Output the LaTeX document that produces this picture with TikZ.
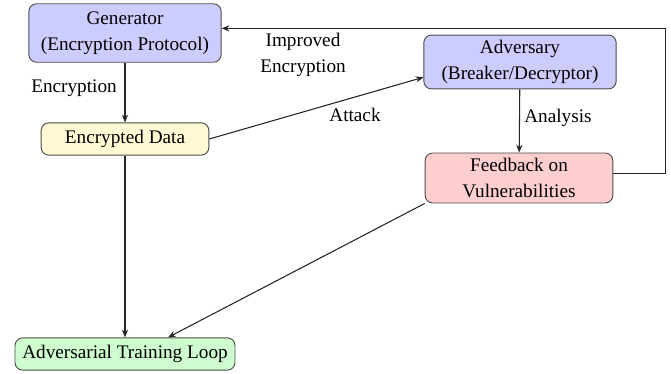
\documentclass[tikz,border=0pt]{standalone}
\usepackage{fontspec}
\setmainfont{Liberation Serif}
\usetikzlibrary{arrows.meta}
\definecolor{genblue}{RGB}{204,204,255}
\definecolor{datayellow}{RGB}{255,250,212}
\definecolor{fbred}{RGB}{255,206,206}
\definecolor{loopgreen}{RGB}{206,252,206}
\begin{document}
\begin{tikzpicture}[
  x=0.65pt, y=-0.65pt,
  block/.style={rounded corners=5pt, draw=black!70, line width=0.6pt, minimum width=#1, align=center, font=\fontsize{12.5}{17}\selectfont},
  lbl/.style={font=\fontsize{12.5}{17}\selectfont, align=center},
  link/.style={->, line width=0.7pt, black!85},
  >={Stealth[length=5pt,width=4pt]}
]
\useasboundingbox (0,0) rectangle (671,374);

% Generator and its output
\node[block=125pt, minimum height=38pt, fill=genblue] (gen) at (125,33) {Generator\\(Encryption Protocol)};
\node[block=109pt, minimum height=21pt, fill=datayellow] (data) at (125,139) {Encrypted Data};

% Adversary side
\node[block=125pt, minimum height=31pt, fill=genblue] (adv) at (520,62) {Adversary\\(Breaker/Decryptor)};
\node[block=122pt, minimum height=31pt, fill=fbred] (fb) at (519,178) {Feedback on\\Vulnerabilities};

% Training loop
\node[block=143pt, minimum height=21pt, fill=loopgreen] (loop) at (125,354) {Adversarial Training Loop};

% Connectors
\draw[link] (gen) -- (data);
\draw[link] (data.east) -- (adv.189);
\draw[link] (adv) -- (fb);
\draw[link] ([yshift=3pt]fb.east) -- ++(52,0) |- ([yshift=3pt]gen.east);
\draw[link] (data) -- (loop);
\draw[link] (fb.south west) -- ([xshift=28pt]loop.north);

% Edge labels
\node[lbl] (encl) at (74,88) {Encryption};
\node[lbl] (impl) at (303,55) {Improved\\Encryption};
\node[lbl] (atk) at (355,115) {Attack};
\node[lbl] (ana) at (558,118) {Analysis};

\end{tikzpicture}
\end{document}
